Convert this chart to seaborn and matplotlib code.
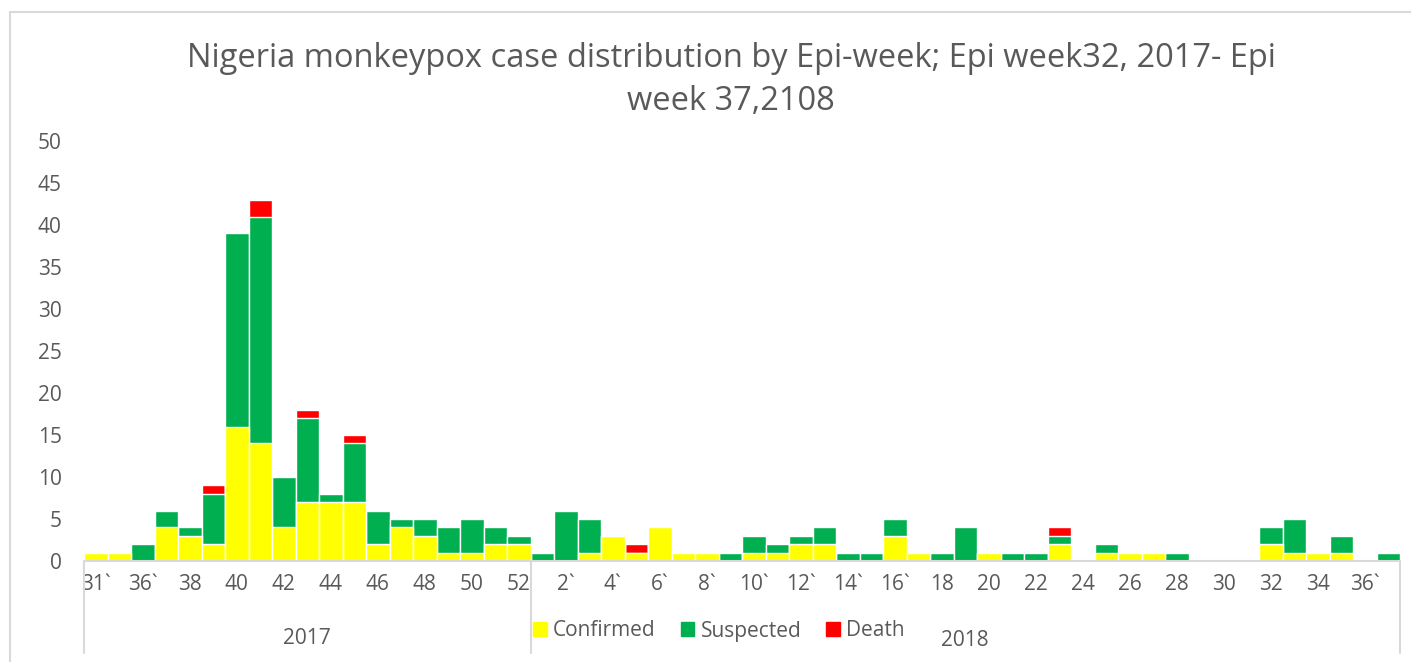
import numpy as np
import pandas as pd
import matplotlib.pyplot as plt
import seaborn as sns

# 1. Data
weeks_2017 = ["31`", "35`", "36`", "37", "38", "39", "40", "41", "42", "43",
              "44", "45", "46", "47", "48", "49", "50", "51", "52"]
confirmed_2017 = [1, 1, 0, 4, 3, 2, 16, 14, 4, 7, 7, 7, 2, 4, 3, 1, 1, 2, 2]
suspected_2017 = [0, 0, 2, 2, 1, 6, 23, 27, 6, 10, 1, 7, 4, 1, 2, 3, 4, 2, 1]
death_2017 = [0, 0, 0, 0, 0, 1, 0, 2, 0, 1, 0, 1, 0, 0, 0, 0, 0, 0, 0]

weeks_2018 = ["1`", "2`", "3`", "4`", "5`", "6`", "7`", "8`", "9`", "10`",
              "11`", "12`", "13`", "14`", "15`", "16`", "17", "18", "19", "20",
              "21", "22", "23", "24", "25", "26", "27", "28", "29", "30",
              "31", "32", "33", "34", "35", "36`", "37"]
confirmed_2018 = [0, 0, 1, 3, 1, 4, 1, 1, 0, 1, 1, 2, 2, 0, 0, 3, 1, 0, 0, 1,
                  0, 0, 2, 0, 1, 1, 1, 0, 0, 0, 0, 2, 1, 1, 1, 0, 0]
suspected_2018 = [1, 6, 4, 0, 0, 0, 0, 0, 1, 2, 1, 1, 2, 1, 1, 2, 0, 1, 4, 0,
                  1, 1, 1, 0, 1, 0, 0, 1, 0, 0, 0, 2, 4, 0, 2, 0, 1]
death_2018 = [0, 0, 0, 0, 1, 0, 0, 0, 0, 0, 0, 0, 0, 0, 0, 0, 0, 0, 0, 0,
              0, 0, 1, 0, 0, 0, 0, 0, 0, 0, 0, 0, 0, 0, 0, 0, 0]

years = ["2017", "2018"]
series = ["Confirmed", "Suspected", "Death"]
colors = ["#FFFF00", "#00B050", "#FF0000"]

# 2. Build frame
df = pd.DataFrame({
    "week": weeks_2017 + weeks_2018,
    "year": [years[0]] * len(weeks_2017) + [years[1]] * len(weeks_2018),
    "Confirmed": confirmed_2017 + confirmed_2018,
    "Suspected": suspected_2017 + suspected_2018,
    "Death": death_2017 + death_2018,
})
df["pos"] = np.arange(len(df))
df["cs"] = df["Confirmed"] + df["Suspected"]
df["total"] = df["cs"] + df["Death"]

# 3. Plot
sns.set_style("white")
plt.rcParams["font.family"] = ["Open Sans", "DejaVu Sans"]
grey = "#595959"

fig = plt.figure(figsize=(14.11, 6.62), dpi=100)
ax = fig.add_axes([84 / 1411, 101 / 662, 1316 / 1411, 420 / 662])

bar_kw = dict(width=1, edgecolor="white", linewidth=1.0, saturation=1,
              errorbar=None, ax=ax)
sns.barplot(data=df, x="pos", y="total", color=colors[2], **bar_kw)
sns.barplot(data=df, x="pos", y="cs", color=colors[1], **bar_kw)
sns.barplot(data=df, x="pos", y="Confirmed", color=colors[0], **bar_kw)

ax.set_xlim(-0.5, len(df) - 0.5)
ax.set_ylim(0, 50)
ax.set_yticks(range(0, 51, 5))
ax.set_xticks(df["pos"][::2])
ax.set_xticklabels(df["week"][::2])
ax.tick_params(axis="both", colors=grey, labelsize=15, length=0)
ax.tick_params(axis="x", pad=9)
ax.tick_params(axis="y", pad=16)
ax.set_xlabel("")
ax.set_ylabel("")
for s in ["top", "right", "left"]:
    ax.spines[s].set_visible(False)
ax.spines["bottom"].set_color("#D9D9D9")
ax.spines["bottom"].set_linewidth(1.5)

# multi-level category axis: group dividers and year labels
trans = ax.get_xaxis_transform()
n17 = len(weeks_2017)
n18 = len(weeks_2018)
for xd in [-0.5, n17 - 0.5, len(df) - 0.5]:
    ax.plot([xd, xd], [0, -0.22], color="#D9D9D9", lw=1.5,
            transform=trans, clip_on=False)
ax.text((n17 - 1) / 2, -0.184, years[0], transform=trans, ha="center",
        va="center", fontsize=15, color=grey)
ax.text(n17 + (n18 - 1) / 2, -0.19, years[1], transform=trans, ha="center",
        va="center", fontsize=15, color=grey)

# legend
handles = [plt.Rectangle((0, 0), 1, 1, color=c) for c in colors]
fig.legend(handles, series, loc="center", bbox_to_anchor=(719 / 1411, 1 - 631 / 662),
           ncol=3, frameon=False, fontsize=15, labelcolor=grey,
           handlelength=0.65, handleheight=0.65, handletextpad=0.3,
           columnspacing=1.2)

fig.text(731 / 1411, 1 - 80 / 662,
         "Nigeria monkeypox case distribution by Epi-week; Epi week32, 2017- Epi\nweek 37,2108",
         ha="center", va="center", fontsize=23.5, color=grey, linespacing=1.38)

# chart frame
fig.add_artist(plt.Line2D([10 / 1411, 10 / 1411], [0, 1 - 12 / 662],
                          color="#D9D9D9", lw=1.5))
fig.add_artist(plt.Line2D([10 / 1411, 1], [1 - 12 / 662, 1 - 12 / 662],
                          color="#D9D9D9", lw=1.5))

fig.savefig("out.png", dpi=100)
